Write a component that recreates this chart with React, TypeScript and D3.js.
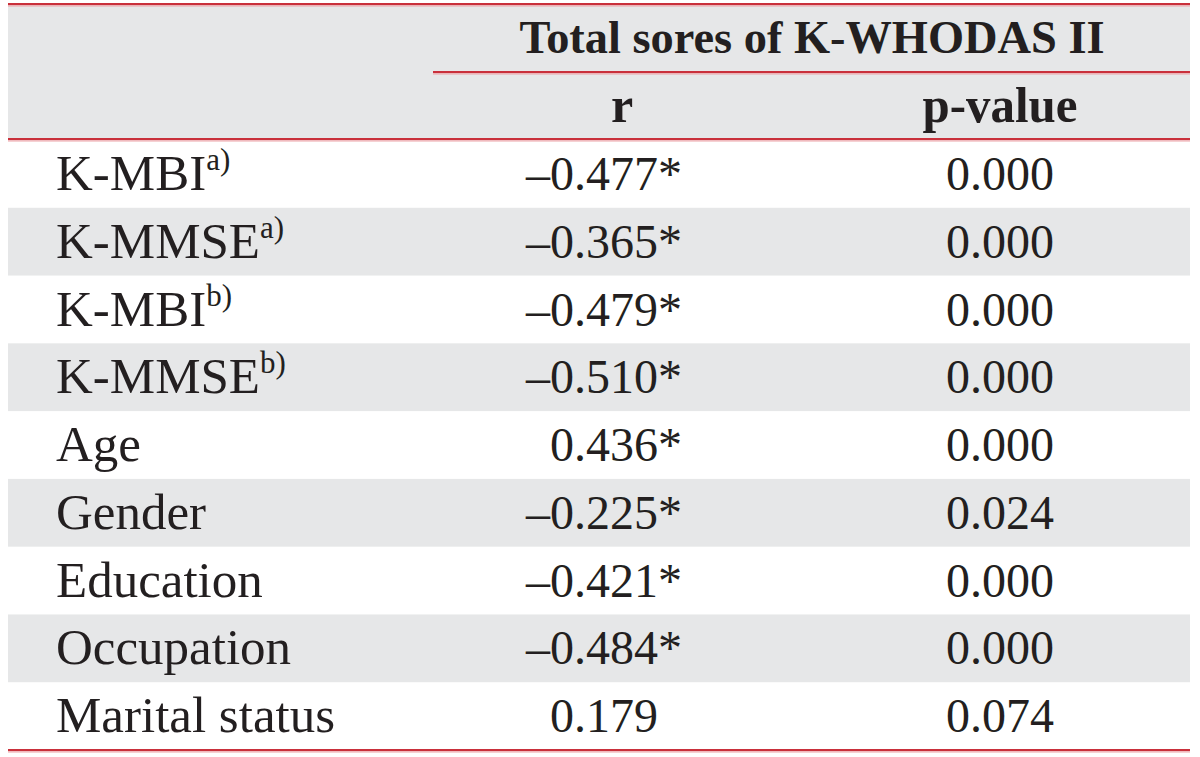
import React from "react";
import * as d3 from "d3";

const labels = ["K-MBI", "K-MMSE", "K-MBI", "K-MMSE", "Age", "Gender", "Education", "Occupation", "Marital status"];
const superscripts = ["a)", "a)", "b)", "b)", "", "", "", "", ""];
const rValues = [-0.477, -0.365, -0.479, -0.51, 0.436, -0.225, -0.421, -0.484, 0.179];
const rSignificant = [true, true, true, true, true, true, true, true, false];
const pValues = [0.0, 0.0, 0.0, 0.0, 0.0, 0.024, 0.0, 0.0, 0.074];
const headerTitle = "Total sores of K-WHODAS II";
const columnHeaders = ["r", "p-value"];

const W = 1200;
const H = 757;
const left = 8;
const right = 1190;
const headTop = 4;
const headBottom = 140;
const bodyBottom = 750;

const RED = "#c9303b";
const PINK = "#eba3a8";
const GRAY = "#e6e7e8";
const FONT = "'Liberation Serif', 'Times New Roman', serif";

const fmt = d3.format(".3f");
const fmtNum = (v: number) => (v < 0 ? "\u2013" : "") + fmt(Math.abs(v));

function RedRule({ x1, x2, y }: { x1: number; x2: number; y: number }) {
  return (
    <g>
      <line x1={x1} x2={x2} y1={y} y2={y} stroke={RED} strokeWidth={2.2} />
      <line x1={x1} x2={x2} y1={y + 1.8} y2={y + 1.8} stroke={PINK} strokeWidth={1.2} />
    </g>
  );
}

export default function App() {
  const y = d3
    .scaleBand<number>()
    .domain(d3.range(labels.length))
    .range([headBottom, bodyBottom])
    .paddingInner(0)
    .paddingOuter(0);
  const rh = y.bandwidth();

  const rRight = 682;
  const pCenter = 1000;
  const labelX = 56;

  return (
    <svg
      width={W}
      height={H}
      style={{ position: "absolute", left: 0, top: 0, background: "#fff" }}
      fontFamily={FONT}
    >
      <rect x={left} y={headTop} width={right - left} height={headBottom - headTop} fill={GRAY} />
      {labels.map((_, i) =>
        i % 2 === 1 ? (
          <rect key={"bg" + i} x={left} y={y(i)!} width={right - left} height={rh} fill={GRAY} />
        ) : null
      )}

      <text
        x={812}
        y={53}
        textAnchor="middle"
        fontWeight="bold"
        fontSize={46}
        fill="#231f20"
        textLength={585}
        lengthAdjust="spacingAndGlyphs"
      >
        {headerTitle}
      </text>
      <text x={622} y={122} textAnchor="middle" fontWeight="bold" fontSize={50} fill="#231f20">
        {columnHeaders[0]}
      </text>
      <text
        x={pCenter}
        y={122}
        textAnchor="middle"
        fontWeight="bold"
        fontSize={50}
        fill="#231f20"
        textLength={155}
        lengthAdjust="spacingAndGlyphs"
      >
        {columnHeaders[1]}
      </text>

      {labels.map((lab, i) => {
        const base = y(i)! + 50;
        return (
          <g key={"row" + i} fill="#231f20">
            <text x={labelX} y={base} fontSize={51}>
              {lab}
              {superscripts[i] ? (
                <tspan fontSize={31} dy={-20}>
                  {superscripts[i]}
                </tspan>
              ) : null}
            </text>
            <text x={rRight} y={base} textAnchor="end" fontSize={48}>
              {fmtNum(rValues[i])}
              <tspan fillOpacity={rSignificant[i] ? 1 : 0}>*</tspan>
            </text>
            <text x={pCenter} y={base} textAnchor="middle" fontSize={48}>
              {fmt(pValues[i])}
            </text>
          </g>
        );
      })}

      <RedRule x1={left} x2={right} y={headTop} />
      <RedRule x1={433} x2={right} y={72} />
      <RedRule x1={left} x2={right} y={headBottom - 1} />
      <RedRule x1={left} x2={right} y={bodyBottom} />
    </svg>
  );
}
